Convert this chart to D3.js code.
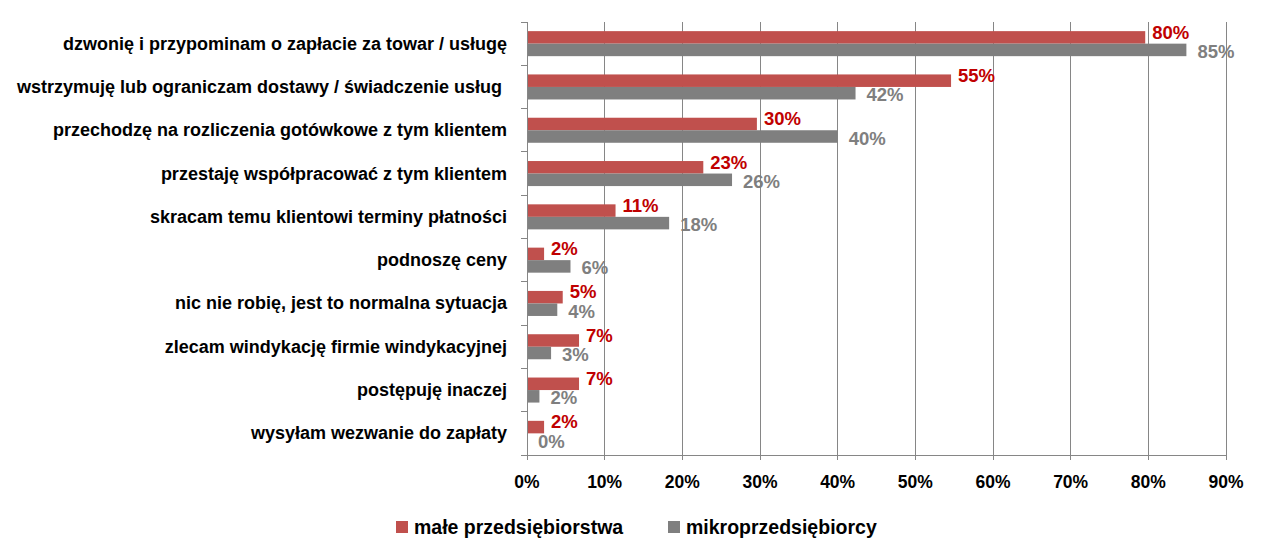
<!DOCTYPE html>
<html>
<head>
<meta charset="utf-8">
<script src="https://cdn.jsdelivr.net/npm/d3@7"></script>
<style>
  html, body { margin: 0; padding: 0; background: #fff; }
  svg { display: block; font-family: "Liberation Sans", Arial, sans-serif; font-weight: bold; }
</style>
</head>
<body>
<div id="chart"></div>
<script>
// Grouped horizontal bars: how firms react to late payments, by company size.

const categories = [
  "dzwonię i przypominam o zapłacie za towar / usługę",
  "wstrzymuję lub ograniczam dostawy / świadczenie usług ",
  "przechodzę na rozliczenia gotówkowe z tym klientem",
  "przestaję współpracować z tym klientem",
  "skracam temu klientowi terminy płatności",
  "podnoszę ceny",
  "nic nie robię, jest to normalna sytuacja",
  "zlecam windykację firmie windykacyjnej",
  "postępuję inaczej",
  "wysyłam wezwanie do zapłaty"
];
const series = ["małe przedsiębiorstwa", "mikroprzedsiębiorcy"];
const maleValues  = [0.796, 0.546, 0.296, 0.227, 0.114, 0.022, 0.046, 0.067, 0.067, 0.022];
const mikroValues = [0.849, 0.423, 0.400, 0.264, 0.183, 0.056, 0.039, 0.031, 0.016, 0.000];
const xTicks = [0, 0.1, 0.2, 0.3, 0.4, 0.5, 0.6, 0.7, 0.8, 0.9];

const barColor   = { "małe przedsiębiorstwa": "#c0504d", "mikroprzedsiębiorcy": "#7f7f7f" };
const labelColor = { "małe przedsiębiorstwa": "#c00000", "mikroprzedsiębiorcy": "#7f7f7f" };
const gridColor = "#868686";

const width = 1267, height = 560;
const margin = { top: 22, right: 41, bottom: 105, left: 527 };

const rows = categories.map((c, i) => ({
  cat: c,
  vals: [
    { s: series[0], v: maleValues[i] },
    { s: series[1], v: mikroValues[i] }
  ]
}));

const svg = d3.select("#chart").append("svg")
  .attr("width", width).attr("height", height)
  .attr("viewBox", `0 0 ${width} ${height}`);

const x = d3.scaleLinear().domain([0, 0.9]).range([margin.left, width - margin.right]);
const y = d3.scaleBand().domain(categories).range([margin.top, height - margin.bottom]);
const y1 = d3.scaleBand().domain(series).range([0, y.bandwidth()]).paddingInner(0).paddingOuter(0.73);

const plotTop = margin.top, plotBottom = height - margin.bottom;

// vertical gridlines
svg.append("g").selectAll("line").data(xTicks.slice(1)).join("line")
  .attr("x1", d => x(d)).attr("x2", d => x(d))
  .attr("y1", plotTop).attr("y2", plotBottom)
  .attr("stroke", gridColor).attr("stroke-width", 1).attr("shape-rendering", "crispEdges");

// bars
const gRows = svg.append("g").selectAll("g").data(rows).join("g")
  .attr("transform", d => `translate(0,${y(d.cat)})`);

gRows.selectAll("rect").data(d => d.vals).join("rect")
  .attr("x", x(0))
  .attr("y", d => y1(d.s))
  .attr("width", d => x(d.v) - x(0))
  .attr("height", y1.bandwidth())
  .attr("fill", d => barColor[d.s]);

// data labels
const fmt = d3.format(".0%");
gRows.selectAll("text").data(d => d.vals).join("text")
  .attr("x", d => x(d.v) + (d.s === series[0] ? 7 : 11))
  .attr("y", d => d.s === series[0] ? y1(d.s) + 1 : y1(d.s) + y1.bandwidth() / 2 + 1.5)
  .attr("dominant-baseline", "central")
  .attr("font-size", 18.5)
  .attr("fill", d => labelColor[d.s])
  .text(d => fmt(d.v));

// y axis
const gY = svg.append("g").attr("transform", `translate(${margin.left},0)`);
gY.append("line").attr("x1", 0).attr("x2", 0).attr("y1", plotTop).attr("y2", plotBottom)
  .attr("stroke", gridColor).attr("shape-rendering", "crispEdges");
gY.selectAll("line.tk").data(categories.concat([null])).join("line").attr("class", "tk")
  .attr("x1", -6).attr("x2", 0)
  .attr("y1", (d, i) => i < categories.length ? y(d) : plotBottom)
  .attr("y2", (d, i) => i < categories.length ? y(d) : plotBottom)
  .attr("stroke", gridColor).attr("shape-rendering", "crispEdges");
gY.selectAll("text").data(categories).join("text")
  .attr("x", -20)
  .attr("y", d => y(d) + y.bandwidth() / 2)
  .attr("text-anchor", "end")
  .attr("dominant-baseline", "central")
  .attr("font-size", 18)
  .attr("fill", "#000")
  .style("white-space", "pre")
  .text(d => d);

// x axis
const gX = svg.append("g").attr("transform", `translate(0,${plotBottom})`);
gX.append("line").attr("x1", x(0)).attr("x2", x(0.9)).attr("y1", 0).attr("y2", 0)
  .attr("stroke", gridColor).attr("shape-rendering", "crispEdges");
gX.selectAll("line.tk").data(xTicks).join("line").attr("class", "tk")
  .attr("x1", d => x(d)).attr("x2", d => x(d)).attr("y1", 0).attr("y2", 5)
  .attr("stroke", gridColor).attr("shape-rendering", "crispEdges");
gX.selectAll("text").data(xTicks).join("text")
  .attr("x", d => x(d)).attr("y", 33)
  .attr("text-anchor", "middle")
  .attr("font-size", 17.5)
  .attr("fill", "#000")
  .text(d => fmt(d));

// legend
const legendX = [396, 668];
const gL = svg.append("g").attr("transform", "translate(0,527)");
const items = gL.selectAll("g").data(series).join("g")
  .attr("transform", (d, i) => `translate(${legendX[i]},0)`);
items.append("rect").attr("x", 0).attr("y", -6).attr("width", 12).attr("height", 12)
  .attr("fill", d => barColor[d]);
items.append("text").attr("x", 18).attr("y", 0)
  .attr("dominant-baseline", "central")
  .attr("font-size", 19.5).attr("fill", "#000")
  .text(d => d);
</script>
</body>
</html>
